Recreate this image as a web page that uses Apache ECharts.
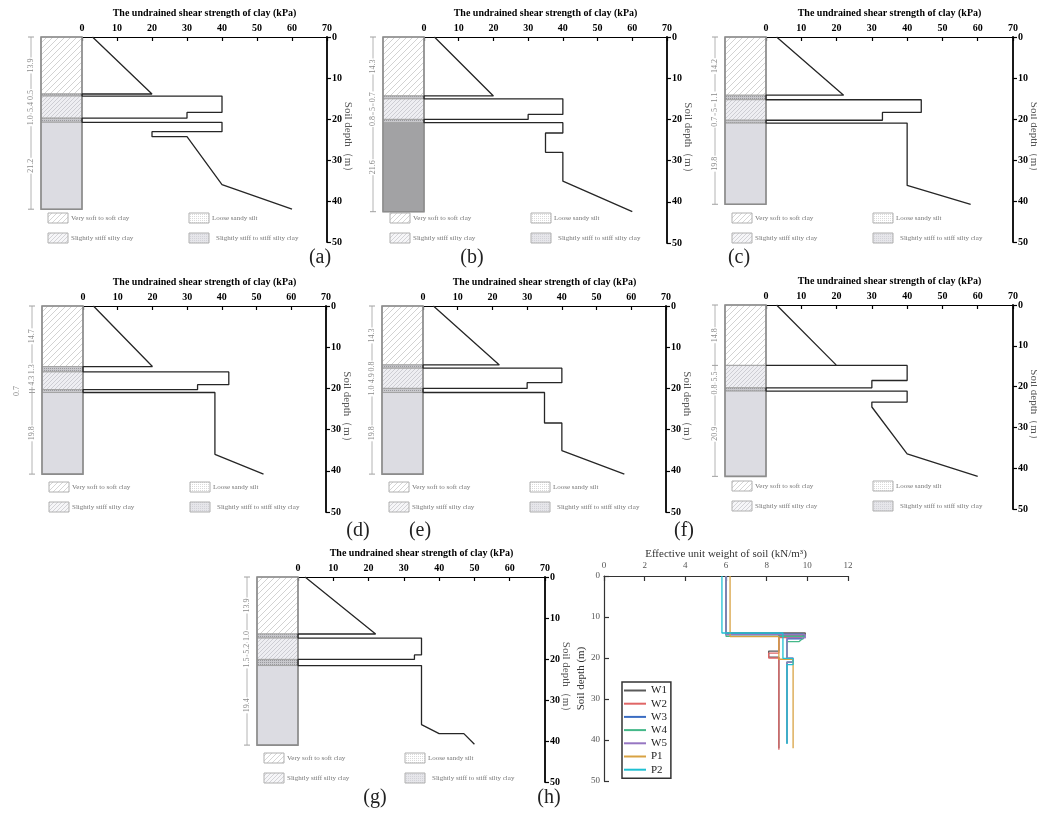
<!DOCTYPE html>
<html>
<head>
<meta charset="utf-8">
<script src="https://cdn.jsdelivr.net/npm/echarts@6/dist/echarts.min.js"></script>
<style>
html,body{margin:0;padding:0;background:#fff;}
#c{width:1037px;height:813px;}
</style>
</head>
<body>
<div id="c"></div>
<script>
// ---------------- DATA ----------------
const SU_TITLE = 'The undrained shear strength of clay (kPa)';
const DEPTH_NAME = 'Soil depth（m）';
const LAYER_NAMES = ['Very soft to soft clay', 'Loose sandy silt', 'Slightly stiff silty clay', 'Slightly stiff to stiff silty clay'];
const PANEL_LABELS = ['(a)', '(b)', '(c)', '(d)', '(e)', '(f)', '(g)', '(h)'];

// layer thickness (m) and layer type (index into LAYER_NAMES), top to bottom
const thickA = ['13.9', '0.5', '5.4', '1.0', '21.2'];
const typesA = [0, 1, 2, 1, 3];
const thickB = ['14.3', '0.7', '5', '0.8', '21.6'];
const typesB = [0, 1, 2, 1, 3];
const thickC = ['14.2', '1.1', '5', '0.7', '19.8'];
const typesC = [0, 1, 2, 1, 3];
const thickD = ['14.7', '1.3', '4.3', '0.7', '19.8'];
const typesD = [0, 1, 2, 1, 3];
const thickE = ['14.3', '0.8', '4.9', '1.0', '19.8'];
const typesE = [0, 1, 2, 1, 3];
const thickF = ['14.8', '5.5', '0.8', '20.9'];
const typesF = [0, 2, 1, 3];
const thickG = ['13.9', '1.0', '5.2', '1.5', '19.4'];
const typesG = [0, 1, 2, 1, 3];

// undrained shear strength profiles [kPa, depth m]
const suA = [[3,0],[20,13.9],[0,13.9],[0,14.4],[40,14.4],[40,18.4],[30,18.4],[30,19.8],[0,19.8],[0,20.8],[40,20.8],[40,23.1],[20,23.1],[20,24.3],[30,24.3],[40,36],[60,42]];
const suB = [[3,0],[20,14.3],[0,14.3],[0,15.0],[40,15.0],[40,18.8],[30,18.8],[30,20.0],[0,20.0],[0,20.8],[40,20.8],[40,23.3],[35,23.3],[35,28],[40,28],[40,35],[60,42.4]];
const suC = [[3,0],[22,14.2],[0,14.2],[0,15.3],[44,15.3],[44,18.4],[33,18.4],[33,20.3],[0,20.3],[0,21.0],[40,21.0],[40,36.2],[58,40.8]];
const suD = [[3,0],[20,14.7],[0,14.7],[0,16.0],[42,16.0],[42,19.1],[33,19.1],[33,20.3],[0,20.3],[0,21.0],[38,21.0],[38,36],[52,40.8]];
const suE = [[3,0],[22,14.3],[0,14.3],[0,15.1],[40,15.1],[40,18.6],[30,18.6],[30,20.0],[0,20.0],[0,21.0],[35,21.0],[35,28.4],[40,28.4],[40,35.1],[58,40.8]];
const suF = [[3,0],[20,14.8],[0,14.8],[40,14.8],[40,18.5],[30,18.5],[30,20.3],[0,20.3],[0,21.1],[40,21.1],[40,23.8],[30,23.8],[30,25],[40,36.5],[60,42]];
const suG = [[2,0],[22,13.9],[0,13.9],[0,14.9],[35,14.9],[35,19.0],[33,19.0],[33,20.1],[0,20.1],[0,21.6],[35,21.6],[35,36],[40,38.2],[47,38.2],[50,40.8]];

// effective unit weight profiles [kN/m3, depth m]
const GAMMA_TITLE = 'Effective unit weight of soil (kN/m³)';
const GAMMA_DEPTH_NAME = 'Soil depth (m)';
const wellNames = ['W1', 'W2', 'W3', 'W4', 'W5', 'P1', 'P2'];
const gammaW1 = [[6.0,0],[6.0,13.9],[9.9,13.9],[9.9,14.4],[8.6,14.4],[8.6,18.3],[8.1,18.3],[8.1,19.8],[8.6,19.8],[8.6,42.0]];
const gammaW2 = [[6.0,0],[6.0,14.3],[9.7,14.3],[9.7,15.0],[8.6,15.0],[8.6,18.8],[8.1,18.8],[8.1,20.0],[8.6,20.0],[8.6,42.4]];
const gammaW3 = [[6.0,0],[6.0,14.2],[9.8,14.2],[9.8,15.3],[9.0,15.3],[9.0,20.3],[9.3,20.3],[9.3,21.0],[9.0,21.0],[9.0,40.8]];
const gammaW4 = [[6.0,0],[6.0,14.7],[9.9,14.7],[9.9,15.0],[9.6,16.0],[9.0,16.0],[9.0,20.3],[9.3,20.3],[9.3,21.0],[9.0,21.0],[9.0,40.8]];
const gammaW5 = [[6.0,0],[6.0,14.3],[9.9,14.3],[9.9,15.1],[9.0,15.1],[9.0,20.0],[9.3,20.0],[9.3,21.0],[9.0,21.0],[9.0,40.8]];
const gammaP1 = [[6.2,0],[6.2,14.8],[8.6,14.8],[8.6,20.3],[9.3,20.3],[9.3,42.0]];
const gammaP2 = [[5.8,0],[5.8,13.9],[8.8,13.9],[8.8,20.1],[9.3,20.1],[9.3,21.6],[9.0,21.6],[9.0,41.0]];

// ---------------- LAYOUT / STYLE ----------------
const SERIF = "'Liberation Serif','Times New Roman',serif";
const layout = [
  {x: 82,  y: 37,  w: 245, h: 205},
  {x: 424, y: 37,  w: 243, h: 206},
  {x: 766, y: 37,  w: 247, h: 205},
  {x: 83,  y: 306, w: 243, h: 206},
  {x: 423, y: 306, w: 243, h: 206},
  {x: 766, y: 305, w: 247, h: 204},
  {x: 298, y: 577, w: 247, h: 205}
];
const layoutH = {x: 604, y: 576, w: 244, h: 205};
const labelPos = [[320,258],[472,258],[739,258],[358,531],[420,531],[684,531],[375,798],[549,798]];
const stiffColor = ['#dcdce2', '#a2a2a4', '#dcdce2', '#dcdce2', '#dcdce2', '#dcdce2', '#dcdce2'];
const wellColors = ['#5a5a5a', '#e06666', '#3a6cc2', '#44b889', '#9676c2', '#d8a243', '#1fc0d2'];
const COL_W = 41, DIM_OFF = 51;

function hatch(bg, fg, step, lw) {
  const c = document.createElement('canvas');
  c.width = step; c.height = step;
  const g = c.getContext('2d');
  g.fillStyle = bg; g.fillRect(0, 0, step, step);
  g.strokeStyle = fg; g.lineWidth = lw;
  g.beginPath();
  g.moveTo(0, step); g.lineTo(step, 0);
  g.moveTo(-1, 1); g.lineTo(1, -1);
  g.moveTo(step - 1, step + 1); g.lineTo(step + 1, step - 1);
  g.stroke();
  return {image: c, repeat: 'repeat'};
}
function dots(bg, fg, step) {
  const c = document.createElement('canvas');
  c.width = step; c.height = step;
  const g = c.getContext('2d');
  g.fillStyle = bg; g.fillRect(0, 0, step, step);
  g.fillStyle = fg; g.fillRect(0, 0, 1, 1);
  return {image: c, repeat: 'repeat'};
}
const COLUMN_FILL = [
  hatch('#ffffff', '#c6c6c6', 6, 0.8),
  dots('#c8c8cc', '#9a9a9e', 2),
  hatch('#eeeef2', '#c4c4ca', 4, 0.8)
];
const LEGEND_FILL = [
  hatch('#ffffff', '#cccccc', 5, 0.8),
  dots('#ffffff', '#dadada', 2),
  hatch('#f6f6f8', '#cacace', 4, 0.8),
  dots('#e6e6ea', '#d2d2d8', 2)
];

const panels = [
  {thick: thickA, types: typesA, su: suA},
  {thick: thickB, types: typesB, su: suB},
  {thick: thickC, types: typesC, su: suC},
  {thick: thickD, types: typesD, su: suD},
  {thick: thickE, types: typesE, su: suE},
  {thick: thickF, types: typesF, su: suF},
  {thick: thickG, types: typesG, su: suG}
];
const gammaData = [gammaW1, gammaW2, gammaW3, gammaW4, gammaW5, gammaP1, gammaP2];

function textLen(t) {
  let n = 0;
  for (const ch of t) n += (ch === '.') ? 2 : 4;
  return n;
}

function makeRender(pi) {
  const P = panels[pi];
  let col1End = -Infinity;
  return function (params, api) {
    const k = params.dataIndex;
    if (k === 0) col1End = -Infinity;
    const top = api.value(1), bot = api.value(2);
    const a = api.coord([0, top]), b = api.coord([0, bot]);
    const xr = a[0], xl = xr - COL_W, dx = xr - DIM_OFF;
    const t = P.types[k];
    const fill = t === 3 ? stiffColor[pi] : COLUMN_FILL[t];
    const ch = [];
    ch.push({type: 'rect', shape: {x: xl, y: a[1], width: COL_W, height: b[1] - a[1]},
      style: {fill: fill, stroke: '#a4a4a4', lineWidth: 1}});
    ch.push({type: 'line', shape: {x1: dx, y1: a[1], x2: dx, y2: b[1]}, style: {stroke: '#b4b4b4', lineWidth: 1}});
    ch.push({type: 'line', shape: {x1: dx - 3, y1: a[1], x2: dx + 3, y2: a[1]}, style: {stroke: '#a0a0a0', lineWidth: 1}});
    if (k === P.thick.length - 1) {
      const y0 = api.coord([0, 0])[1];
      ch.push({type: 'line', shape: {x1: dx - 3, y1: b[1], x2: dx + 3, y2: b[1]}, style: {stroke: '#a0a0a0', lineWidth: 1}});
      ch.push({type: 'rect', shape: {x: xl, y: y0, width: COL_W, height: b[1] - y0},
        style: {fill: 'none', stroke: '#8c8c8c', lineWidth: 1.6}, z2: 5});
    }
    const txt = P.thick[k];
    const len = textLen(txt);
    const mid = (a[1] + b[1]) / 2;
    let lx = dx;
    if (mid - len / 2 < col1End + 1) { lx = dx - 15; } else { col1End = mid + len / 2; }
    ch.push({type: 'text', x: lx, y: mid, rotation: Math.PI / 2, z2: 10,
      style: {text: txt, fontSize: 8, fontFamily: SERIF, fill: '#8a8a8a', align: 'center',
        verticalAlign: 'middle', backgroundColor: '#fff', padding: [0, 1]}});
    return {type: 'group', children: ch};
  };
}

// ---------------- OPTION ----------------
const grids = [], xAxes = [], yAxes = [], series = [], graphics = [];
const boldLabel = {fontFamily: SERIF, fontWeight: 'bold', fontSize: 10, color: '#000'};

panels.forEach((P, i) => {
  const L = layout[i];
  grids.push({left: L.x, top: L.y, width: L.w, height: L.h, outerBoundsMode: 'none', containLabel: false});
  xAxes.push({
    gridIndex: i, type: 'value', position: 'top', min: 0, max: 70, interval: 10,
    name: SU_TITLE, nameLocation: 'middle', nameGap: 19,
    nameTextStyle: {fontFamily: SERIF, fontWeight: 'bold', fontSize: 10, color: '#000'},
    axisLine: {show: true, onZero: false, lineStyle: {color: '#000', width: 1}},
    axisTick: {show: true, inside: true, length: 4, lineStyle: {color: '#000', width: 1.2}},
    axisLabel: Object.assign({margin: 4}, boldLabel),
    splitLine: {show: false}
  });
  yAxes.push({
    gridIndex: i, type: 'value', position: 'right', inverse: true, min: 0, max: 50, interval: 10,
    name: DEPTH_NAME, nameLocation: 'middle', nameRotate: -90, nameGap: 15, nameMoveOverlap: false,
    nameTextStyle: {fontFamily: SERIF, fontSize: 11, color: '#555'},
    axisLine: {show: true, onZero: false, lineStyle: {color: '#000', width: 1.8}},
    axisTick: {show: true, inside: false, length: 4, lineStyle: {color: '#000', width: 1.2}},
    axisLabel: Object.assign({margin: 5}, boldLabel),
    splitLine: {show: false}
  });
  let cum = 0;
  const colData = P.thick.map(s => { const tp = cum; cum += parseFloat(s); return [0, tp, cum]; });
  series.push({
    type: 'custom', xAxisIndex: i, yAxisIndex: i, clip: false, silent: true,
    encode: {x: 0, y: [1, 2]}, data: colData, renderItem: makeRender(i)
  });
  series.push({
    type: 'line', xAxisIndex: i, yAxisIndex: i, data: P.su, symbol: 'none', silent: true,
    lineStyle: {color: '#262626', width: 1.3}, z: 3
  });
  // strata legend
  const items = [{t: 0, c: 0, r: 0}, {t: 1, c: 1, r: 0}, {t: 2, c: 0, r: 1}, {t: 3, c: 1, r: 1}];
  items.forEach(it => {
    const sx = L.x + (it.c ? 107 : -34);
    const sy = L.y + (it.r ? 201 : 181);
    graphics.push({type: 'rect', shape: {x: sx, y: sy - 5, width: 20, height: 10},
      style: {fill: LEGEND_FILL[it.t], stroke: '#b0b0b0', lineWidth: 1}});
    graphics.push({type: 'text', x: sx + 23 + (it.t === 3 ? 4 : 0), y: sy,
      style: {text: LAYER_NAMES[it.t], fontSize: 7, fontFamily: SERIF, fill: '#777', align: 'left', verticalAlign: 'middle'}});
  });
});

// panel (h)
const hi = panels.length;
grids.push({left: layoutH.x, top: layoutH.y, width: layoutH.w, height: layoutH.h, outerBoundsMode: 'none', containLabel: false});
xAxes.push({
  gridIndex: hi, type: 'value', position: 'top', min: 0, max: 12, interval: 2,
  name: GAMMA_TITLE, nameLocation: 'middle', nameGap: 16,
  nameTextStyle: {fontFamily: SERIF, fontSize: 11, color: '#333'},
  axisLine: {show: true, onZero: false, lineStyle: {color: '#333', width: 1.2}},
  axisTick: {show: true, inside: true, length: 5, lineStyle: {color: '#333', width: 1.2}},
  axisLabel: {fontFamily: SERIF, fontSize: 9, color: '#555', margin: 6},
  splitLine: {show: false}
});
yAxes.push({
  gridIndex: hi, type: 'value', position: 'left', inverse: true, min: 0, max: 50, interval: 10,
  name: GAMMA_DEPTH_NAME, nameLocation: 'middle', nameRotate: 90, nameGap: 16,
  nameTextStyle: {fontFamily: SERIF, fontSize: 11, color: '#333'},
  axisLine: {show: true, onZero: false, lineStyle: {color: '#333', width: 1.2}},
  axisTick: {show: true, inside: true, length: 5, lineStyle: {color: '#333', width: 1.2}},
  axisLabel: {fontFamily: SERIF, fontSize: 9, color: '#555', margin: 4},
  splitLine: {show: false}
});
wellNames.forEach((n, k) => {
  series.push({
    name: n, type: 'line', xAxisIndex: hi, yAxisIndex: hi, data: gammaData[k], symbol: 'none',
    lineStyle: {color: wellColors[k], width: 1.3}, itemStyle: {color: wellColors[k]}, z: 3 + k
  });
});

PANEL_LABELS.forEach((t, k) => {
  graphics.push({type: 'text', x: labelPos[k][0], y: labelPos[k][1],
    style: {text: t, fontSize: 20, fontFamily: SERIF, fill: '#222', align: 'center', verticalAlign: 'middle'}});
});

const option = {
  animation: false,
  backgroundColor: '#fff',
  grid: grids,
  xAxis: xAxes,
  yAxis: yAxes,
  series: series,
  legend: {
    data: wellNames, orient: 'vertical', left: 622, top: 682,
    icon: 'rect', itemWidth: 22, itemHeight: 2, itemGap: 2.2,
    padding: [3, 4, 3, 2],
    borderColor: '#333', borderWidth: 1.5, borderRadius: 0,
    textStyle: {fontFamily: SERIF, fontSize: 11, color: '#222'},
    selectedMode: false
  },
  graphic: {elements: graphics}
};

const chart = echarts.init(document.getElementById('c'), null, {renderer: 'canvas'});
chart.setOption(option);
</script>
</body>
</html>
